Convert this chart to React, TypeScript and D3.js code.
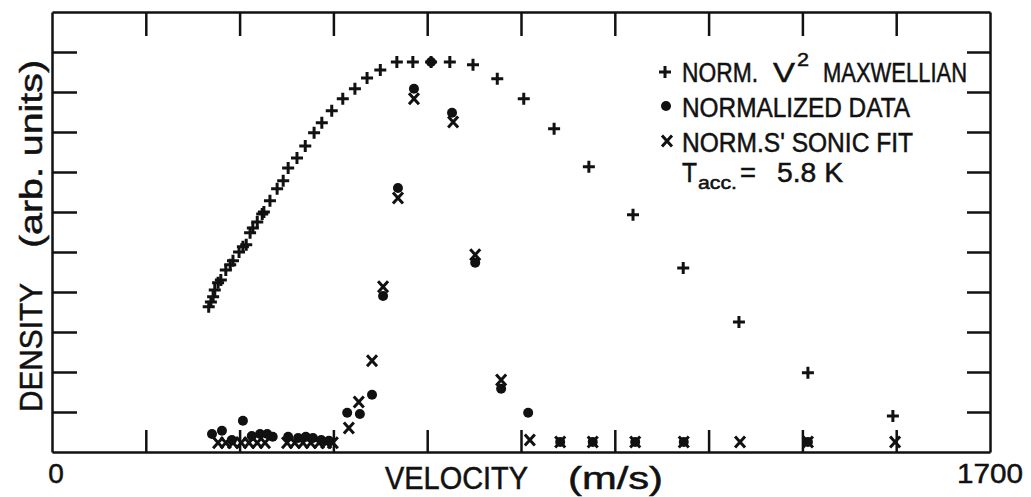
import React, { useEffect, useRef } from 'react';
import * as d3 from 'd3';

// Normalized v^2 Maxwellian (+)
const maxwellVelocity = [
  284, 288, 292, 295, 301, 306, 315, 323, 328, 339, 346, 352, 359, 364, 372, 381, 384, 395, 408,
  419, 428, 444, 459, 475, 489, 507, 527, 549, 571, 595, 625, 654, 687, 721, 763, 807, 855, 910,
  973, 1053, 1144, 1245, 1370, 1524,
];
const maxwellDensity = [
  3.63, 3.75, 3.88, 4.05, 4.23, 4.3, 4.55, 4.68, 4.78, 5.0, 5.13, 5.18, 5.48, 5.6, 5.75, 5.95, 6.0,
  6.28, 6.58, 6.78, 7.1, 7.35, 7.65, 7.98, 8.23, 8.53, 8.83, 9.08, 9.35, 9.55, 9.75, 9.75, 9.75,
  9.75, 9.68, 9.33, 8.83, 8.08, 7.13, 5.93, 4.6, 3.25, 1.98, 0.9,
];

// Normalized data (filled dots)
const dataVelocity = [
  290, 308, 326, 346, 362, 377, 390, 400, 428, 446, 460, 473, 488, 502, 535, 558, 580, 600, 627,
  656, 687, 725, 767, 814, 863, 921, 980, 1057, 1145, 1370,
];
const dataDensity = [
  0.45, 0.53, 0.3, 0.78, 0.4, 0.45, 0.45, 0.38, 0.38, 0.35, 0.38, 0.35, 0.3, 0.28, 0.98, 0.95,
  1.43, 3.9, 6.6, 9.08, 9.75, 8.48, 4.73, 1.58, 0.98, 0.25, 0.25, 0.25, 0.25, 0.25,
];

// Normalized S' sonic fit (x)
const fitVelocity = [
  301, 315, 328, 343, 357, 372, 386, 426, 440, 455, 469, 484, 497, 509, 538, 556, 580, 600, 627,
  656, 727, 767, 814, 866, 921, 980, 1057, 1145, 1247, 1370, 1528,
];
const fitDensity = [
  0.23, 0.23, 0.23, 0.23, 0.23, 0.23, 0.23, 0.23, 0.23, 0.23, 0.23, 0.23, 0.23, 0.23, 0.6, 1.25,
  2.28, 4.13, 6.35, 8.83, 8.25, 4.93, 1.8, 0.3, 0.25, 0.25, 0.25, 0.25, 0.25, 0.25, 0.25,
];

const xTicks = [170, 340, 510, 680, 850, 1020, 1190, 1360, 1530];
const yTicks = [1, 2, 3, 4, 5, 6, 7, 8, 9, 10];
const xEndLabels = ['0', '1700'];

const FONT = "'Liberation Sans', Arial, Helvetica, sans-serif";
const INK = '#111';

const App: React.FC = () => {
  const svgRef = useRef<SVGSVGElement>(null);

  useEffect(() => {
    if (!svgRef.current) return;
    const svg = d3.select(svgRef.current);
    svg.selectAll('*').remove();

    const x = d3.scaleLinear().domain([0, 1700]).range([52, 990]);
    const y = d3.scaleLinear().domain([0, 11]).range([452, 12]);

    const g = svg.append('g');

    // Frame + inward ticks on all four sides
    const noLabel = () => '';
    g.append('g')
      .attr('transform', `translate(0,${y(0)})`)
      .call(d3.axisBottom(x).tickValues(xTicks).tickSize(-22).tickSizeOuter(0).tickFormat(noLabel));
    g.append('g')
      .attr('transform', `translate(0,${y(11)})`)
      .call(d3.axisTop(x).tickValues(xTicks).tickSize(-24).tickSizeOuter(0).tickFormat(noLabel));
    g.append('g')
      .attr('transform', `translate(${x(0)},0)`)
      .call(d3.axisLeft(y).tickValues(yTicks).tickSize(-25).tickSizeOuter(0).tickFormat(noLabel));
    g.append('g')
      .attr('transform', `translate(${x(1700)},0)`)
      .call(d3.axisRight(y).tickValues(yTicks).tickSize(-23).tickSizeOuter(0).tickFormat(noLabel));

    svg.selectAll('.domain, .tick line').style('stroke', INK).style('stroke-width', '2.5px');
    svg.selectAll('.domain').style('fill', 'none');

    // Marker shapes
    const plusPath = (cx: number, cy: number) => `M${cx - 6},${cy}h12M${cx},${cy - 6}v12`;
    const crossPath = (cx: number, cy: number) =>
      `M${cx - 5},${cy - 5.5}L${cx + 5},${cy + 5.5}M${cx + 5},${cy - 5.5}L${cx - 5},${cy + 5.5}`;

    const marks = g.append('g');

    marks
      .selectAll('path.maxwell')
      .data(maxwellVelocity)
      .enter()
      .append('path')
      .attr('class', 'maxwell')
      .attr('d', (v, i) => plusPath(x(v), y(maxwellDensity[i])))
      .style('stroke', INK)
      .style('stroke-width', '3px')
      .style('fill', 'none');

    marks
      .selectAll('path.fit')
      .data(fitVelocity)
      .enter()
      .append('path')
      .attr('class', 'fit')
      .attr('d', (v, i) => crossPath(x(v), y(fitDensity[i])))
      .style('stroke', INK)
      .style('stroke-width', '3px')
      .style('fill', 'none');

    marks
      .selectAll('circle.data')
      .data(dataVelocity)
      .enter()
      .append('circle')
      .attr('class', 'data')
      .attr('cx', (v) => x(v))
      .attr('cy', (v, i) => y(dataDensity[i]))
      .attr('r', 5)
      .style('fill', INK);

    // Text helper (slight stroke to mimic the heavier plotter lettering)
    const addText = (
      txt: string,
      px: number,
      py: number,
      size: number,
      len?: number,
      anchor = 'start',
    ) => {
      const t = svg
        .append('text')
        .attr('x', px)
        .attr('y', py)
        .attr('text-anchor', anchor)
        .style('font-family', FONT)
        .style('font-size', `${size}px`)
        .style('fill', INK)
        .style('stroke', INK)
        .style('stroke-width', '0.5px')
        .text(txt);
      if (len) t.attr('textLength', len).attr('lengthAdjust', 'spacingAndGlyphs');
      return t;
    };

    // X end labels
    addText(xEndLabels[0], x(0) + 4, 483, 28, undefined, 'middle');
    addText(xEndLabels[1], x(1700), 483, 28, 66, 'middle');

    // X title
    addText('VELOCITY', 385, 489, 31, 143);
    addText('(m/s)', 568, 489, 31, 95);

    // Y title (rotated)
    const yTitle = svg.append('g').attr('transform', 'translate(42,0) rotate(-90)');
    const yParts: [string, number, number][] = [
      ['DENSITY', -412, 129],
      ['(arb. units)', -248, 188],
    ];
    yParts.forEach(([txt, pos, len]) => {
      yTitle
        .append('text')
        .attr('x', pos)
        .attr('y', 0)
        .style('font-family', FONT)
        .style('font-size', '32px')
        .style('fill', INK)
        .style('stroke', INK)
        .style('stroke-width', '0.5px')
        .attr('textLength', len)
        .attr('lengthAdjust', 'spacingAndGlyphs')
        .text(txt);
    });

    // Legend
    const legend = svg.append('g');
    legend
      .append('path')
      .attr('d', plusPath(665, 72))
      .style('stroke', INK)
      .style('stroke-width', '3px');
    legend.append('circle').attr('cx', 666).attr('cy', 106).attr('r', 5).style('fill', INK);
    legend
      .append('path')
      .attr('d', crossPath(667, 141))
      .style('stroke', INK)
      .style('stroke-width', '3px');

    addText('NORM.', 682, 82, 27, 76);
    addText('V', 773, 82, 27, 22);
    addText('2', 797, 66, 18, 12);
    addText('MAXWELLIAN', 823, 82, 27, 144);
    addText('NORMALIZED DATA', 682, 117, 27, 228);
    addText("NORM.S' SONIC FIT", 682, 152, 27, 231);
    addText('T', 682, 182, 27, 15);
    addText('acc.', 698, 189, 18, 39);
    addText('=', 740, 182, 27, 16);
    addText('5.8 K', 777, 182, 27, 66);
  }, []);

  return (
    <div style={{ position: 'absolute', left: 0, top: 0, background: '#fff' }}>
      <svg ref={svgRef} width={1031} height={497} style={{ display: 'block', background: '#fff' }} />
    </div>
  );
};

export default App;
